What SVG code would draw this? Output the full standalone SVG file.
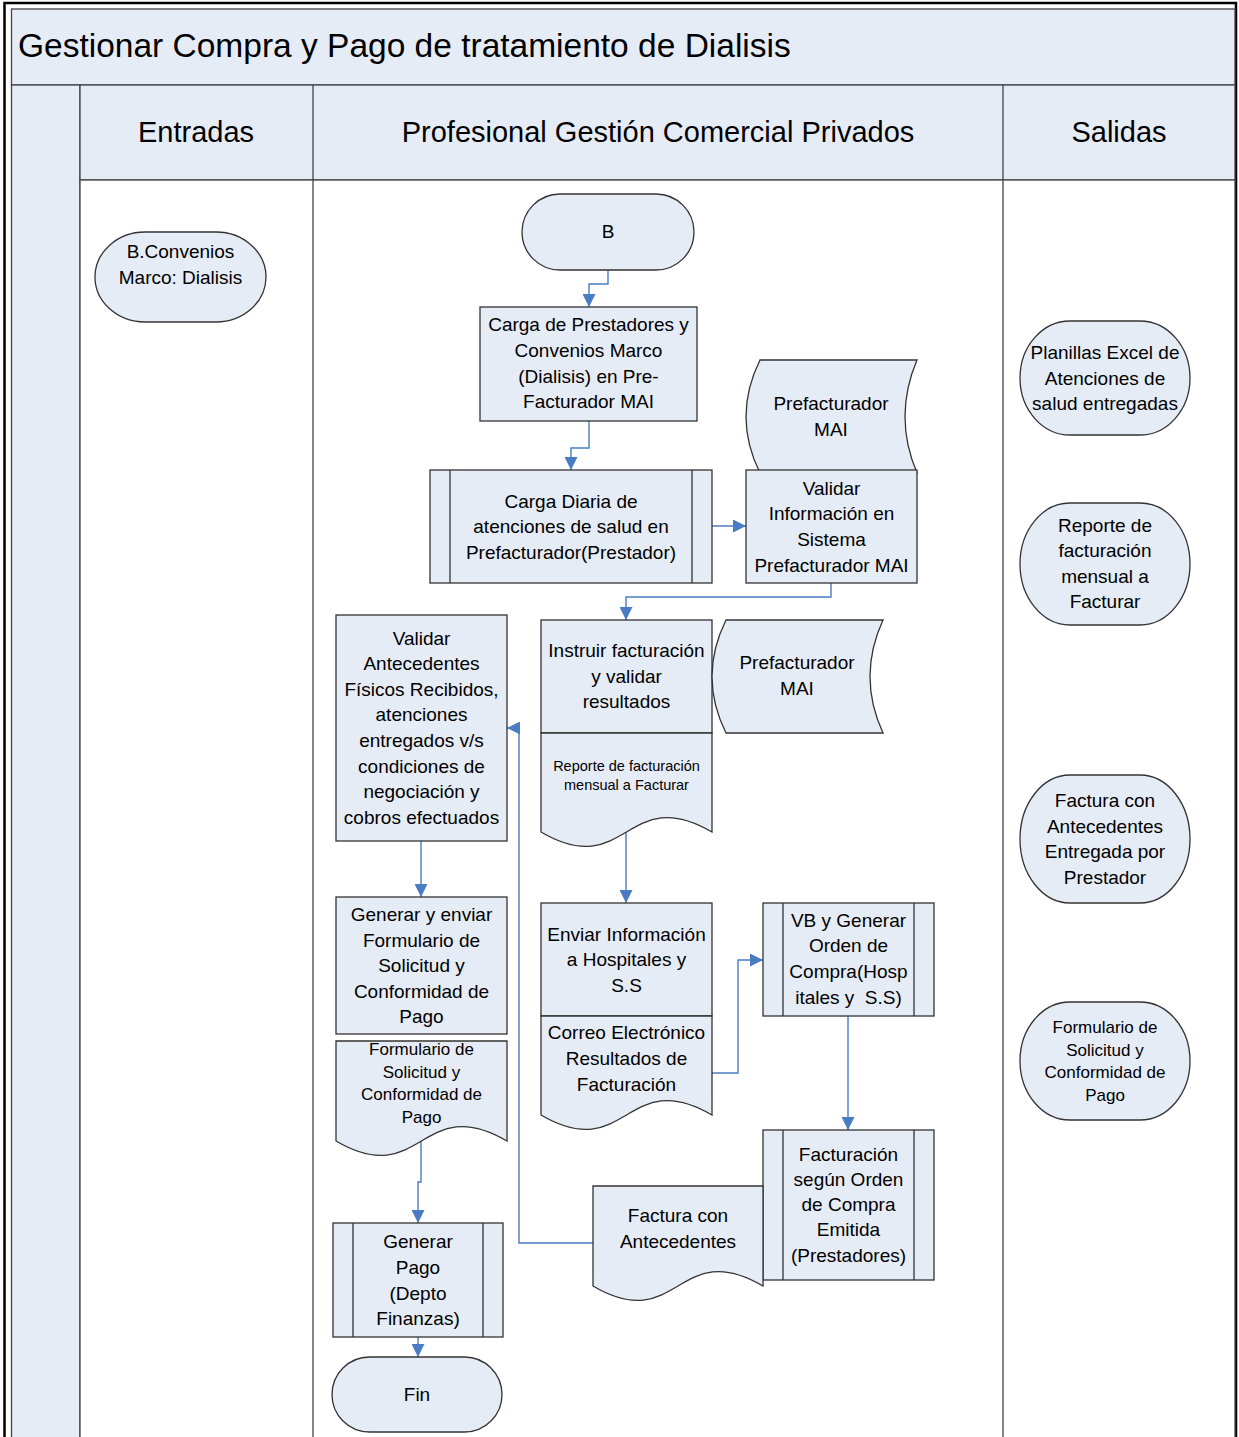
<svg xmlns="http://www.w3.org/2000/svg" width="1239" height="1437" viewBox="0 0 1239 1437">
  <style>
    .t { font-family: "Liberation Sans", Arial, sans-serif; fill: #000; text-anchor: middle; }
    .n { font-size: 19px; }
    .s { font-size: 17px; }
    .xs { font-size: 14.5px; }
    .shape { fill: #E6ECF6; stroke: #333; stroke-width: 1.3; }
    .lane { stroke: #444; stroke-width: 1.3; }
    .conn { fill: none; stroke: #4A7CC4; stroke-width: 1.4; }
  </style>
  <defs>
    <marker id="arrow" viewBox="0 0 12 12" refX="12" refY="6" markerWidth="13" markerHeight="13" markerUnits="userSpaceOnUse" orient="auto">
      <path d="M0,0 L12,6 L0,12 Z" fill="#4A7CC4"/>
    </marker>
  </defs>

  <!-- page background and outer frame -->
  <rect x="0" y="0" width="1239" height="1437" fill="#fff"/>
  <rect x="4.5" y="3" width="1231.5" height="1440" fill="none" stroke="#000" stroke-width="2.5"/>

  <!-- pool: title band, header row, lanes -->
  <g id="pool">
    <rect x="11.5" y="9" width="1223.5" height="76" fill="#E6ECF6" stroke="#444" stroke-width="1.3"/>
    <text class="t" x="18" y="57" style="font-size:33.5px;text-anchor:start">Gestionar Compra y Pago de tratamiento de Dialisis</text>
    <rect x="11.5" y="85" width="68.5" height="1360" fill="#E6ECF6" class="lane"/>
    <rect x="80" y="85" width="1155" height="95" fill="#E6ECF6" class="lane"/>
    <rect x="80" y="180" width="1155" height="1265" fill="#fff" class="lane"/>
    <line class="lane" x1="313" y1="85" x2="313" y2="1437"/>
    <line class="lane" x1="1003" y1="85" x2="1003" y2="1437"/>
    <text class="t" x="196" y="142" style="font-size:29px">Entradas</text>
    <text class="t" x="658" y="142" style="font-size:29px">Profesional Gestión Comercial Privados</text>
    <text class="t" x="1119" y="142" style="font-size:29px">Salidas</text>
  </g>

  <!-- connectors -->
  <g id="connectors">
    <path class="conn" d="M608,270 V284 H589 V307" marker-end="url(#arrow)"/>
    <path class="conn" d="M589,421 V448 H571 V470" marker-end="url(#arrow)"/>
    <path class="conn" d="M712,526 H746" marker-end="url(#arrow)"/>
    <path class="conn" d="M831,583 V597 H626 V620" marker-end="url(#arrow)"/>
    <path class="conn" d="M626,832 V903" marker-end="url(#arrow)"/>
    <path class="conn" d="M712,1073 H738 V960 H763" marker-end="url(#arrow)"/>
    <path class="conn" d="M848,1016 V1130" marker-end="url(#arrow)"/>
    <path class="conn" d="M593,1243 H519 V728 H507" marker-end="url(#arrow)"/>
    <path class="conn" d="M421,841 V897" marker-end="url(#arrow)"/>
    <path class="conn" d="M421,1141 V1182 H418 V1223" marker-end="url(#arrow)"/>
    <path class="conn" d="M418,1337 V1357" marker-end="url(#arrow)"/>
  </g>

  <!-- inputs -->
  <g id="in-convenios">
    <rect class="shape" x="95" y="232" width="171" height="90" rx="50" ry="45"/>
    <text class="t n" x="180.5"><tspan x="180.5" y="258">B.Convenios</tspan><tspan x="180.5" y="284">Marco: Dialisis</tspan></text>
  </g>

  <!-- process lane -->
  <g id="start-b">
    <rect class="shape" x="522" y="194" width="172" height="76" rx="38" ry="38"/>
    <text class="t n" x="608" y="238">B</text>
  </g>

  <g id="carga-prestadores">
    <rect class="shape" x="480" y="307" width="217" height="114"/>
    <text class="t n"><tspan x="588.5" y="331">Carga de Prestadores y</tspan><tspan x="588.5" y="357">Convenios Marco</tspan><tspan x="588.5" y="383">(Dialisis) en Pre-</tspan><tspan x="588.5" y="408">Facturador MAI</tspan></text>
  </g>

  <g id="carga-diaria">
    <rect class="shape" x="430" y="470" width="282" height="113"/>
    <line class="shape" x1="450" y1="470" x2="450" y2="583"/>
    <line class="shape" x1="692" y1="470" x2="692" y2="583"/>
    <text class="t n"><tspan x="571" y="508">Carga Diaria de</tspan><tspan x="571" y="533">atenciones de salud en</tspan><tspan x="571" y="559">Prefacturador(Prestador)</tspan></text>
  </g>

  <g id="prefacturador-1">
    <path class="shape" d="M760,360 H917 Q893,416.5 917,473 H760 Q732,416.5 760,360 Z"/>
    <text class="t n"><tspan x="831" y="410">Prefacturador</tspan><tspan x="831" y="436">MAI</tspan></text>
  </g>

  <g id="validar-info">
    <rect class="shape" x="746" y="470" width="171" height="113"/>
    <text class="t n"><tspan x="831.5" y="495">Validar</tspan><tspan x="831.5" y="520">Información en</tspan><tspan x="831.5" y="546">Sistema</tspan><tspan x="831.5" y="572">Prefacturador MAI</tspan></text>
  </g>

  <g id="instruir">
    <rect class="shape" x="541" y="620" width="171" height="113"/>
    <path class="shape" d="M541,733 H712 V832 C626.5,782 626.5,882 541,832 Z"/>
    <text class="t n"><tspan x="626.5" y="657">Instruir facturación</tspan><tspan x="626.5" y="683">y validar</tspan><tspan x="626.5" y="708">resultados</tspan></text>
    <text class="t xs"><tspan x="626.5" y="771">Reporte de facturación</tspan><tspan x="626.5" y="790">mensual a Facturar</tspan></text>
  </g>

  <g id="prefacturador-2">
    <path class="shape" d="M726,620 H883 Q857,676.5 883,733 H726 Q698,676.5 726,620 Z"/>
    <text class="t n"><tspan x="797" y="669">Prefacturador</tspan><tspan x="797" y="695">MAI</tspan></text>
  </g>

  <g id="validar-antecedentes">
    <rect class="shape" x="336" y="615" width="171" height="226"/>
    <text class="t n"><tspan x="421.5" y="645">Validar</tspan><tspan x="421.5" y="670">Antecedentes</tspan><tspan x="421.5" y="696">Físicos Recibidos,</tspan><tspan x="421.5" y="721">atenciones</tspan><tspan x="421.5" y="747">entregados v/s</tspan><tspan x="421.5" y="773">condiciones de</tspan><tspan x="421.5" y="798">negociación y</tspan><tspan x="421.5" y="824">cobros efectuados</tspan></text>
  </g>

  <g id="generar-formulario">
    <rect class="shape" x="336" y="897" width="171" height="137"/>
    <text class="t n"><tspan x="421.5" y="921">Generar y enviar</tspan><tspan x="421.5" y="947">Formulario de</tspan><tspan x="421.5" y="972">Solicitud y</tspan><tspan x="421.5" y="998">Conformidad de</tspan><tspan x="421.5" y="1023">Pago</tspan></text>
  </g>

  <g id="doc-formulario">
    <path class="shape" d="M336,1041 H507 V1141 C421.5,1091 421.5,1191 336,1141 Z"/>
    <text class="t s"><tspan x="421.5" y="1055">Formulario de</tspan><tspan x="421.5" y="1078">Solicitud y</tspan><tspan x="421.5" y="1100">Conformidad de</tspan><tspan x="421.5" y="1123">Pago</tspan></text>
  </g>

  <g id="enviar-info">
    <rect class="shape" x="541" y="903" width="171" height="113"/>
    <path class="shape" d="M541,1016 H712 V1115 C626.5,1065 626.5,1165 541,1115 Z"/>
    <text class="t n"><tspan x="626.5" y="941">Enviar Información</tspan><tspan x="626.5" y="966">a Hospitales y</tspan><tspan x="626.5" y="992">S.S</tspan></text>
    <text class="t n"><tspan x="626.5" y="1039">Correo Electrónico</tspan><tspan x="626.5" y="1065">Resultados de</tspan><tspan x="626.5" y="1091">Facturación</tspan></text>
  </g>

  <g id="vb-orden">
    <rect class="shape" x="763" y="903" width="171" height="113"/>
    <line class="shape" x1="783" y1="903" x2="783" y2="1016"/>
    <line class="shape" x1="914" y1="903" x2="914" y2="1016"/>
    <text class="t n"><tspan x="848.5" y="927">VB y Generar</tspan><tspan x="848.5" y="952">Orden de</tspan><tspan x="848.5" y="978">Compra(Hosp</tspan><tspan x="848.5" y="1004">itales y&#160; S.S)</tspan></text>
  </g>

  <g id="facturacion-orden">
    <rect class="shape" x="763" y="1130" width="171" height="150"/>
    <line class="shape" x1="783" y1="1130" x2="783" y2="1280"/>
    <line class="shape" x1="914" y1="1130" x2="914" y2="1280"/>
    <text class="t n"><tspan x="848.5" y="1161">Facturación</tspan><tspan x="848.5" y="1186">según Orden</tspan><tspan x="848.5" y="1211">de Compra</tspan><tspan x="848.5" y="1236">Emitida</tspan><tspan x="848.5" y="1262">(Prestadores)</tspan></text>
  </g>

  <g id="doc-factura">
    <path class="shape" d="M593,1186 H763 V1286 C678,1236 678,1336 593,1286 Z"/>
    <text class="t n"><tspan x="678" y="1222">Factura con</tspan><tspan x="678" y="1248">Antecedentes</tspan></text>
  </g>

  <g id="generar-pago">
    <rect class="shape" x="333" y="1223" width="170" height="114"/>
    <line class="shape" x1="353" y1="1223" x2="353" y2="1337"/>
    <line class="shape" x1="483" y1="1223" x2="483" y2="1337"/>
    <text class="t n"><tspan x="418" y="1248">Generar</tspan><tspan x="418" y="1274">Pago</tspan><tspan x="418" y="1300">(Depto</tspan><tspan x="418" y="1325">Finanzas)</tspan></text>
  </g>

  <g id="fin">
    <rect class="shape" x="332" y="1357" width="170" height="75" rx="37.5" ry="37.5"/>
    <text class="t n" x="417" y="1401">Fin</text>
  </g>

  <!-- outputs -->
  <g id="out-planillas">
    <rect class="shape" x="1020" y="321" width="170" height="114" rx="50" ry="57"/>
    <text class="t n"><tspan x="1105" y="359">Planillas Excel de</tspan><tspan x="1105" y="385">Atenciones de</tspan><tspan x="1105" y="410">salud entregadas</tspan></text>
  </g>

  <g id="out-reporte">
    <rect class="shape" x="1020" y="503" width="170" height="122" rx="50" ry="61"/>
    <text class="t n"><tspan x="1105" y="532">Reporte de</tspan><tspan x="1105" y="557">facturación</tspan><tspan x="1105" y="583">mensual a</tspan><tspan x="1105" y="608">Facturar</tspan></text>
  </g>

  <g id="out-factura">
    <rect class="shape" x="1020" y="775" width="170" height="128" rx="50" ry="64"/>
    <text class="t n"><tspan x="1105" y="807">Factura con</tspan><tspan x="1105" y="833">Antecedentes</tspan><tspan x="1105" y="858">Entregada por</tspan><tspan x="1105" y="884">Prestador</tspan></text>
  </g>

  <g id="out-formulario">
    <rect class="shape" x="1020" y="1002" width="170" height="118" rx="50" ry="59"/>
    <text class="t s"><tspan x="1105" y="1033">Formulario de</tspan><tspan x="1105" y="1056">Solicitud y</tspan><tspan x="1105" y="1078">Conformidad de</tspan><tspan x="1105" y="1101">Pago</tspan></text>
  </g>
</svg>
